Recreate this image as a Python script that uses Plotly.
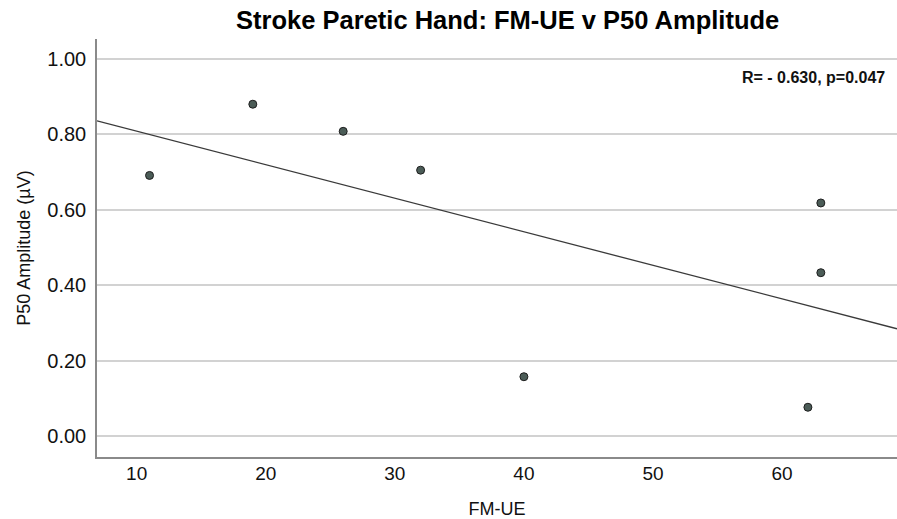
import numpy as np
import plotly.graph_objects as go

fm_ue = [11, 19, 26, 32, 40, 62, 63, 63]
p50_amp = [0.691, 0.880, 0.808, 0.705, 0.157, 0.076, 0.618, 0.433]
y_ticks = [0.0, 0.2, 0.4, 0.6, 0.8, 1.0]
x_ticks = [10, 20, 30, 40, 50, 60]
x_range = [6.93, 68.9]
y_range = [-0.056, 1.053]

slope, intercept = np.polyfit(fm_ue, p50_amp, 1)
line_x = np.array(x_range)
line_y = slope * line_x + intercept

FONT = "Liberation Sans, Arial, sans-serif"

fig = go.Figure()
fig.add_trace(go.Scatter(
    x=line_x, y=line_y, mode="lines",
    line=dict(color="#3a3a3a", width=1.3),
    hoverinfo="skip", showlegend=False))
fig.add_trace(go.Scatter(
    x=fm_ue, y=p50_amp, mode="markers",
    marker=dict(size=8, color="#4b5c57", line=dict(color="#1e1e1e", width=1)),
    showlegend=False))

fig.update_layout(
    width=897, height=519,
    margin=dict(l=97, r=0, t=39, b=62),
    paper_bgcolor="white", plot_bgcolor="white",
    font=dict(family=FONT, color="#111111"),
    title=dict(text="<b>Stroke Paretic Hand: FM-UE v P50 Amplitude</b>",
               x=0.566, xref="container", xanchor="center",
               y=1 - 20.5 / 519, yref="container", yanchor="middle",
               font=dict(size=25.5, color="#000000")),
    xaxis=dict(range=x_range, tickvals=x_ticks, ticktext=[str(v) for v in x_ticks],
               showgrid=False, zeroline=False, automargin=False,
               showline=True, linecolor="#8a8a8a", linewidth=1.5,
               ticks="", ticklabelstandoff=-2,
               tickfont=dict(size=19, color="#111111"),
               title=dict(text="FM-UE", font=dict(size=18, color="#111111"), standoff=24)),
    yaxis=dict(range=y_range, tickvals=y_ticks, ticktext=[f"{v:.2f}" for v in y_ticks],
               showgrid=True, gridcolor="#d2d2d2", gridwidth=1.5, zeroline=False,
               automargin=False,
               showline=True, linecolor="#8a8a8a", linewidth=1.5,
               ticks="", ticklabelstandoff=5,
               tickfont=dict(size=20, color="#111111"),
               title=dict(text="P50 Amplitude (µV)", font=dict(size=18, color="#111111"), standoff=12)),
    annotations=[dict(text="<b>R= - 0.630, p=0.047</b>", xref="paper", yref="y",
                      x=(887 - 97) / 800, y=0.951, xanchor="right", yanchor="middle",
                      showarrow=False, font=dict(size=16, color="#111111"))],
)

fig.write_html("out.html")
